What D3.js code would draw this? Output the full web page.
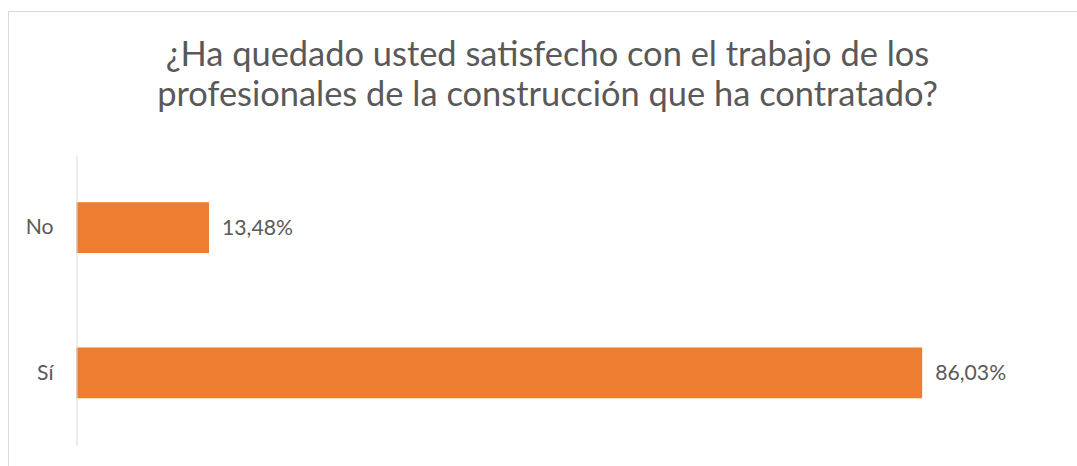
<!DOCTYPE html>
<html>
<head>
<meta charset="utf-8">
<script src="https://cdn.jsdelivr.net/npm/d3@7"></script>
<style>
  html, body { margin: 0; padding: 0; background: #fff; }
  svg { display: block; }
  text { font-family: Lato, "Open Sans", sans-serif; fill: #595959; }
</style>
</head>
<body>
<svg id="chart" width="1077" height="466"></svg>
<script>
const titleLines = ["¿Ha quedado usted satisfecho con el trabajo de los",
                    "profesionales de la construcción que ha contratado?"];
const categories = ["No", "Sí"];
const values = [13.48, 86.03];
const valueLabels = ["13,48%", "86,03%"];
const xDomain = [0, 100];

const W = 1077, H = 466;
const svg = d3.select("#chart");

// chart border (extends beyond the frame on right/bottom)
svg.append("rect")
  .attr("x", 8.5).attr("y", 11.5)
  .attr("width", 1100).attr("height", 500)
  .attr("fill", "#fff").attr("stroke", "#D9D9D9").attr("stroke-width", 1);

const plot = { left: 76.5, right: 1059.5, top: 155, bottom: 445.5 };

const x = d3.scaleLinear().domain(xDomain).range([plot.left, plot.right]);
const y = d3.scaleBand().domain(categories).range([plot.top, plot.bottom])
  .paddingInner(0.65).paddingOuter(0.325);

function fitSize(sel, target, base) {
  sel.style("font-size", base + "px");
  const w = sel.node().getComputedTextLength();
  const s = base * target / w;
  sel.style("font-size", s + "px");
  return s;
}

// Title
const t1 = svg.append("text").attr("x", 547.5).attr("y", 66)
  .attr("text-anchor", "middle").text(titleLines[0]);
const t2 = svg.append("text").attr("x", 547.5).attr("y", 106)
  .attr("text-anchor", "middle").text(titleLines[1]);
const tSize = fitSize(t2, 781, 30);
t1.style("font-size", tSize + "px");

// Bars
svg.append("g").selectAll("rect")
  .data(categories)
  .join("rect")
  .attr("x", x(0))
  .attr("y", d => y(d))
  .attr("width", (d, i) => x(values[i]) - x(0))
  .attr("height", y.bandwidth())
  .attr("fill", "#ED7D31");

// Axis
const axis = svg.append("g")
  .attr("transform", `translate(${plot.left},0)`)
  .call(d3.axisLeft(y).tickSize(0).tickSizeOuter(0).tickPadding(23));
axis.select(".domain").attr("stroke", "#D9D9D9").attr("stroke-width", 1);
axis.selectAll("text").attr("fill", "#595959")
  .style("font-family", "Lato, 'Open Sans', sans-serif");

// Value labels
const vl = svg.append("g").selectAll("text")
  .data(categories)
  .join("text")
  .attr("x", (d, i) => x(values[i]) + 13)
  .attr("y", d => y(d) + y.bandwidth() / 2)
  .attr("dy", "0.35em")
  .text((d, i) => valueLabels[i]);
const lSize = fitSize(d3.select(vl.nodes()[1]), 71, 20);
vl.style("font-size", lSize + "px");
axis.selectAll("text").style("font-size", lSize + "px");
</script>
</body>
</html>
